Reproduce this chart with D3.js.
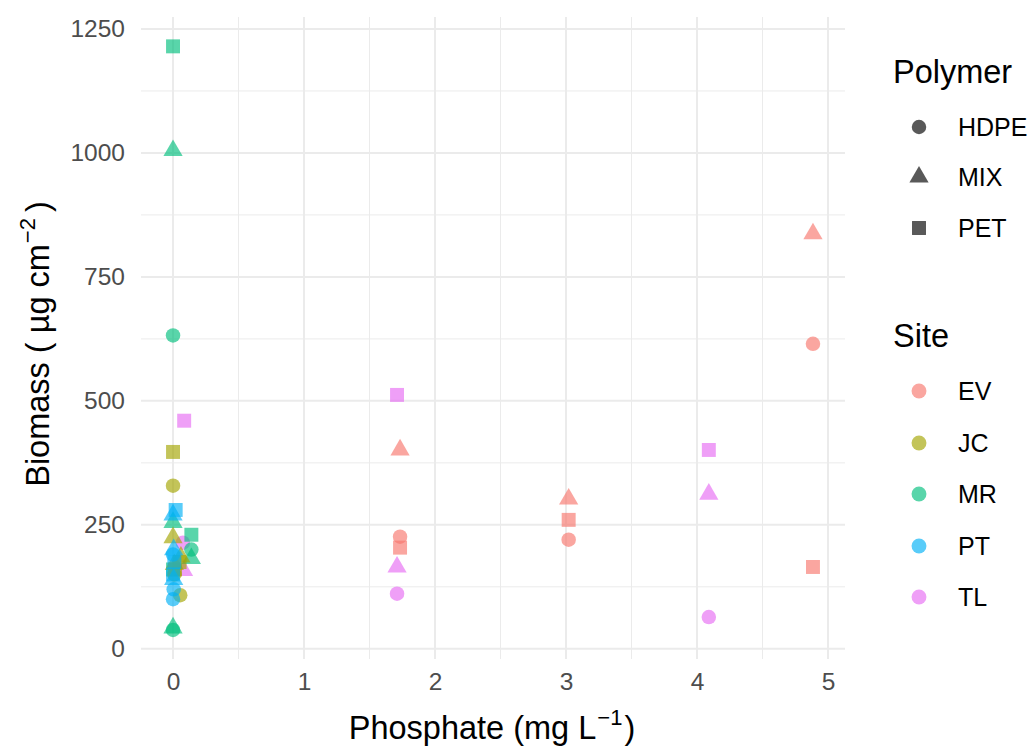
<!DOCTYPE html>
<html><head><meta charset="utf-8">
<script src="https://cdn.jsdelivr.net/npm/d3@7"></script>
<style>body{margin:0;background:#fff}svg{font-family:"Liberation Sans",Arial,Helvetica,sans-serif}</style>
</head><body>
<svg id="c" width="1034" height="747"></svg>
<script>
const sites = ["EV","JC","MR","PT","TL"];
const siteColors = ["#F8766D","#A3A500","#00BF7D","#00B0F6","#E76BF3"];
const polymers = ["HDPE","MIX","PET"];
const xTicks = [0,1,2,3,4,5];
const yTicks = [0,250,500,750,1000,1250];

const ptSite = ["EV","EV","EV","EV","EV","EV","EV","EV","EV",
  "TL","TL","TL","TL","TL","TL","TL","TL","TL",
  "MR","MR","MR","MR","MR","MR","MR","MR","MR","MR",
  "JC","JC","JC","JC","JC","JC","JC","JC","JC",
  "PT","PT","PT","PT","PT","PT","PT","PT","PT"];
const ptPolymer = ["HDPE","MIX","PET","HDPE","MIX","PET","HDPE","MIX","PET",
  "HDPE","MIX","PET","HDPE","MIX","PET","HDPE","MIX","PET",
  "HDPE","MIX","PET","HDPE","MIX","PET","HDPE","MIX","PET","MIX",
  "HDPE","MIX","PET","HDPE","MIX","PET","HDPE","MIX","PET",
  "HDPE","MIX","PET","HDPE","MIX","PET","HDPE","MIX","PET"];
const ptPhosphate = [4.885,4.885,4.885,3.02,3.02,3.02,1.733,1.733,1.733,
  1.71,1.71,1.71,4.09,4.09,4.09,0.075,0.08,0.085,
  0,0,0,0.14,0.14,0.14,0,0,0,0,
  0,0,0,0.055,0.06,0.05,0.01,0.01,0.015,
  0,0,0.02,0.005,0.005,0.01,0,0.005,0];
const ptBiomass = [615,837,165,220,302,260,226,401,204,
  111,165,512,64,312,401,214,158,460,
  632,1005,1215,200,182,230,38,42,160,255,
  329,224,397,108,185,175,150,170,160,
  190,270,280,120,200,175,100,140,150];

const svg = d3.select("#c");
const L = 141, R = 845, T = 17, B = 659;
const x = d3.scaleLinear().domain([-0.2445, 5.1295]).range([L, R]);
const y = d3.scaleLinear().domain([-20.6, 1274.2]).range([B, T]);
const color = d3.scaleOrdinal().domain(sites).range(siteColors);
const shape = d3.scaleOrdinal().domain(polymers).range([d3.symbolCircle, d3.symbolTriangle, d3.symbolSquare]);
const sizes = {HDPE: 165, MIX: 160, PET: 195};
const sym = p => d3.symbol().type(shape(p)).size(sizes[p])();

const grid = svg.append("g");
const minorX = [0.5,1.5,2.5,3.5,4.5];
const minorY = [125,375,625,875,1125];
grid.selectAll(".mx").data(minorX).join("line").attr("x1",d=>x(d)).attr("x2",d=>x(d)).attr("y1",T).attr("y2",B).attr("stroke","#EBEBEB").attr("stroke-width",1);
grid.selectAll(".my").data(minorY).join("line").attr("y1",d=>y(d)).attr("y2",d=>y(d)).attr("x1",L).attr("x2",R).attr("stroke","#EBEBEB").attr("stroke-width",1);
grid.selectAll(".Mx").data(xTicks).join("line").attr("x1",d=>x(d)).attr("x2",d=>x(d)).attr("y1",T).attr("y2",B).attr("stroke","#EBEBEB").attr("stroke-width",2);
grid.selectAll(".My").data(yTicks).join("line").attr("y1",d=>y(d)).attr("y2",d=>y(d)).attr("x1",L).attr("x2",R).attr("stroke","#EBEBEB").attr("stroke-width",2);

const xa = svg.append("g").attr("transform",`translate(0,${B})`).call(d3.axisBottom(x).tickValues(xTicks).tickSize(0).tickPadding(8).tickFormat(d3.format("d")));
const ya = svg.append("g").attr("transform",`translate(${L},0)`).call(d3.axisLeft(y).tickValues(yTicks).tickSize(0).tickPadding(16).tickFormat(d3.format("d")));
[xa,ya].forEach(a=>{a.select(".domain").remove();a.selectAll("text").attr("font-size",24.5).attr("fill","#4D4D4D").attr("font-family","Liberation Sans,Arial,sans-serif");});
xa.selectAll("text").attr("dy","0.95em");

const data = ptSite.map((s,i)=>({s,p:ptPolymer[i],x:ptPhosphate[i],y:ptBiomass[i]}));
svg.append("g").selectAll("path").data(data).join("path")
  .attr("d",d=>sym(d.p))
  .attr("transform",d=>`translate(${x(d.x)},${y(d.y)})`)
  .attr("fill",d=>color(d.s)).attr("fill-opacity",0.65);

const xt = svg.append("text").attr("x",(L+R)/2 - 1).attr("y",739).attr("text-anchor","middle").attr("font-size",32.5).attr("fill","#000");
xt.append("tspan").text("Phosphate (mg L");
xt.append("tspan").attr("font-size",22).attr("dy",-14).attr("dx",1).text("−1");
xt.append("tspan").attr("dy",14).attr("dx",2).text(")");
const yt = svg.append("text").attr("transform",`translate(49,${(T+B)/2 + 6}) rotate(-90)`).attr("text-anchor","middle").attr("font-size",32.5).attr("fill","#000");
yt.append("tspan").text("Biomass (");
yt.append("tspan").attr("dx",9).text("µg cm");
yt.append("tspan").attr("font-size",22).attr("dy",-14).attr("dx",1).text("−2");
yt.append("tspan").attr("dy",14).attr("dx",6).text(")");

const lg = svg.append("g");
lg.append("text").attr("x",893).attr("y",83).attr("font-size",32.5).text("Polymer");
const py = [127,177,228];
polymers.forEach((p,i)=>{
  lg.append("path").attr("d",sym(p)).attr("transform",`translate(919,${py[i]})`).attr("fill","#000").attr("fill-opacity",0.65);
  lg.append("text").attr("x",958).attr("y",py[i]).attr("dy","0.36em").attr("font-size",25).attr("fill","#000").text(p);
});
lg.append("text").attr("x",893).attr("y",347).attr("font-size",32.5).text("Site");
const sy = [391,443,494,546,597];
sites.forEach((s,i)=>{
  lg.append("path").attr("d",d3.symbol().type(d3.symbolCircle).size(175)()).attr("transform",`translate(919,${sy[i]})`).attr("fill",color(s)).attr("fill-opacity",0.65);
  lg.append("text").attr("x",958).attr("y",sy[i]).attr("dy","0.36em").attr("font-size",25).attr("fill","#000").text(s);
});
</script>
</body></html>
